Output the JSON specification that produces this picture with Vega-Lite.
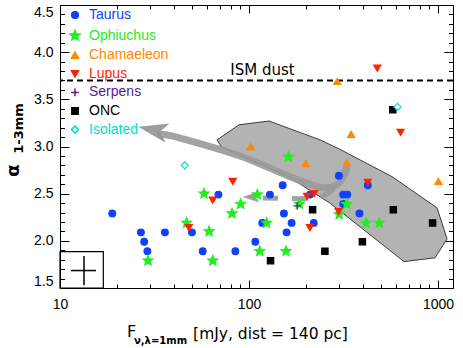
{
  "$schema": "https://vega.github.io/schema/vega-lite/v6.json",
  "width": 393,
  "height": 283,
  "autosize": {"type": "none"},
  "padding": {"left": 60, "top": 5, "right": 10, "bottom": 60},
  "background": "white",
  "config": {
    "view": {"stroke": "black", "strokeWidth": 1},
    "axis": {"grid": false, "domain": false, "tickColor": "black", "tickWidth": 1, "labelColor": "black", "titleColor": "black", "labelFont": "Liberation Sans", "labelFontSize": 14, "titleFont": "DejaVu Sans", "titleFontWeight": "normal"},
    "legend": {"orient": "none", "legendX": 8, "legendY": 3, "labelFont": "Liberation Sans", "labelFontSize": 14, "labelOffset": 7, "rowPadding": 4.6, "symbolStrokeWidth": 1.5,
      "labelColor": {"expr": "datum.label == 'Taurus' ? '#1040ff' : datum.label == 'Ophiuchus' ? '#22ee22' : datum.label == 'Chamaeleon' ? '#ff8800' : datum.label == 'Lupus' ? '#ff2200' : datum.label == 'Serpens' ? '#5a1a9a' : datum.label == 'Isolated' ? '#00e0c8' : '#000000'"}}
  },
  "datasets": {
    "points": [
      {"flux": 18.9, "alpha": 2.29, "group": "Taurus"},
      {"flux": 26.8, "alpha": 2.09, "group": "Taurus"},
      {"flux": 35.9, "alpha": 2.09, "group": "Taurus"},
      {"flux": 49.9, "alpha": 2.09, "group": "Taurus"},
      {"flux": 27.9, "alpha": 1.99, "group": "Taurus"},
      {"flux": 29.0, "alpha": 1.89, "group": "Taurus"},
      {"flux": 56.9, "alpha": 1.89, "group": "Taurus"},
      {"flux": 68.9, "alpha": 2.49, "group": "Taurus"},
      {"flux": 129, "alpha": 2.49, "group": "Taurus"},
      {"flux": 210, "alpha": 2.49, "group": "Taurus"},
      {"flux": 315, "alpha": 2.49, "group": "Taurus"},
      {"flux": 331, "alpha": 2.49, "group": "Taurus"},
      {"flux": 150.7, "alpha": 2.59, "group": "Taurus"},
      {"flux": 299, "alpha": 2.69, "group": "Taurus"},
      {"flux": 315, "alpha": 2.39, "group": "Taurus"},
      {"flux": 153, "alpha": 2.29, "group": "Taurus"},
      {"flux": 117.5, "alpha": 2.19, "group": "Taurus"},
      {"flux": 168, "alpha": 2.19, "group": "Taurus"},
      {"flux": 220, "alpha": 2.19, "group": "Taurus"},
      {"flux": 158, "alpha": 2.09, "group": "Taurus"},
      {"flux": 108, "alpha": 1.99, "group": "Taurus"},
      {"flux": 84.7, "alpha": 1.89, "group": "Taurus"},
      {"flux": 425, "alpha": 2.59, "group": "Taurus"},
      {"flux": 384, "alpha": 2.29, "group": "Taurus"},
      {"flux": 57.8, "alpha": 2.5, "group": "Ophiuchus"},
      {"flux": 46.8, "alpha": 2.19, "group": "Ophiuchus"},
      {"flux": 61.5, "alpha": 2.1, "group": "Ophiuchus"},
      {"flux": 29.2, "alpha": 1.79, "group": "Ophiuchus"},
      {"flux": 64.3, "alpha": 1.79, "group": "Ophiuchus"},
      {"flux": 161.5, "alpha": 2.89, "group": "Ophiuchus"},
      {"flux": 110.7, "alpha": 2.49, "group": "Ophiuchus"},
      {"flux": 90.3, "alpha": 2.39, "group": "Ophiuchus"},
      {"flux": 184.6, "alpha": 2.39, "group": "Ophiuchus"},
      {"flux": 81.3, "alpha": 2.29, "group": "Ophiuchus"},
      {"flux": 300, "alpha": 2.28, "group": "Ophiuchus"},
      {"flux": 124, "alpha": 2.19, "group": "Ophiuchus"},
      {"flux": 114, "alpha": 1.89, "group": "Ophiuchus"},
      {"flux": 157, "alpha": 1.89, "group": "Ophiuchus"},
      {"flux": 329, "alpha": 2.39, "group": "Ophiuchus"},
      {"flux": 416, "alpha": 2.19, "group": "Ophiuchus"},
      {"flux": 489, "alpha": 2.19, "group": "Ophiuchus"},
      {"flux": 102, "alpha": 3.0, "group": "Chamaeleon"},
      {"flux": 200, "alpha": 2.82, "group": "Chamaeleon"},
      {"flux": 329, "alpha": 2.83, "group": "Chamaeleon"},
      {"flux": 293, "alpha": 3.69, "group": "Chamaeleon"},
      {"flux": 347, "alpha": 3.13, "group": "Chamaeleon"},
      {"flux": 1005, "alpha": 2.63, "group": "Chamaeleon"},
      {"flux": 48, "alpha": 2.14, "group": "Lupus"},
      {"flux": 82, "alpha": 2.63, "group": "Lupus"},
      {"flux": 221, "alpha": 2.5, "group": "Lupus"},
      {"flux": 203, "alpha": 2.47, "group": "Lupus"},
      {"flux": 64.3, "alpha": 2.43, "group": "Lupus"},
      {"flux": 298, "alpha": 2.31, "group": "Lupus"},
      {"flux": 210, "alpha": 2.14, "group": "Lupus"},
      {"flux": 477, "alpha": 3.83, "group": "Lupus"},
      {"flux": 634, "alpha": 3.15, "group": "Lupus"},
      {"flux": 425, "alpha": 2.62, "group": "Lupus"},
      {"flux": 180, "alpha": 2.37, "group": "Serpens"},
      {"flux": 217, "alpha": 2.33, "group": "ONC"},
      {"flux": 252, "alpha": 1.89, "group": "ONC"},
      {"flux": 130, "alpha": 1.79, "group": "ONC"},
      {"flux": 576, "alpha": 3.39, "group": "ONC"},
      {"flux": 580, "alpha": 2.33, "group": "ONC"},
      {"flux": 936, "alpha": 2.19, "group": "ONC"},
      {"flux": 398, "alpha": 1.99, "group": "ONC"},
      {"flux": 45.7, "alpha": 2.8, "group": "Isolated"},
      {"flux": 610, "alpha": 3.42, "group": "Isolated"}
    ],
    "poly": [
      {"i": 1, "flux": 67.7, "alpha": 3.07},
      {"i": 2, "flux": 88.5, "alpha": 3.23},
      {"i": 3, "flux": 127.6, "alpha": 3.27},
      {"i": 4, "flux": 237.8, "alpha": 3.07},
      {"i": 5, "flux": 303, "alpha": 2.97},
      {"i": 6, "flux": 571, "alpha": 2.68},
      {"i": 7, "flux": 988, "alpha": 2.35},
      {"i": 8, "flux": 1116, "alpha": 2.02},
      {"i": 9, "flux": 964, "alpha": 1.82},
      {"i": 10, "flux": 661, "alpha": 1.78},
      {"i": 11, "flux": 268, "alpha": 2.4},
      {"i": 12, "flux": 164.8, "alpha": 2.67},
      {"i": 13, "flux": 71.9, "alpha": 2.99},
      {"i": 14, "flux": 67.7, "alpha": 3.07}
    ],
    "longarrow": [
      {"i": 1, "flux": 33.8, "alpha": 3.13},
      {"i": 2, "flux": 43.2, "alpha": 3.09},
      {"i": 3, "flux": 89.6, "alpha": 2.9},
      {"i": 4, "flux": 164.8, "alpha": 2.68},
      {"i": 5, "flux": 237.8, "alpha": 2.57},
      {"i": 6, "flux": 285, "alpha": 2.58},
      {"i": 7, "flux": 314, "alpha": 2.67},
      {"i": 8, "flux": 330, "alpha": 2.79}
    ],
    "dasharrow": [
      {"i": 1, "flux": 118.6, "alpha": 2.454},
      {"i": 2, "flux": 155, "alpha": 2.449},
      {"i": 3, "flux": 210, "alpha": 2.449},
      {"i": 4, "flux": 252, "alpha": 2.486},
      {"i": 5, "flux": 285, "alpha": 2.56}
    ],
    "longhead": [{"flux": 31.0, "alpha": 3.175}],
    "dashhead": [{"flux": 102.5, "alpha": 2.465}],
    "ism": [{"alpha": 3.7}],
    "ismlabel": [{"flux": 117.9, "alpha": 3.7, "text": "ISM dust"}],
    "box": [{"x1": 10, "x2": 16.95, "y1": 1.5, "y2": 1.885}],
    "cross": [
      {"x1": 11.4, "x2": 15.5, "y1": 1.685, "y2": 1.685},
      {"x1": 13.4, "x2": 13.4, "y1": 1.53, "y2": 1.84}
    ]
  },
  "layer": [
    {
      "data": {"name": "poly"},
      "mark": {"type": "line", "fill": "#b3b3b3", "stroke": "#3c3c3c", "strokeWidth": 1},
      "encoding": {
        "x": {"field": "flux", "type": "quantitative", "scale": {"type": "log", "domain": [10, 1200], "nice": false},
          "axis": {"orient": "bottom", "values": [20, 30, 40, 50, 60, 70, 80, 90, 200, 300, 400, 500, 600, 700, 800, 900], "labels": false, "tickSize": -4, "title": "F", "titleFont": "DejaVu Sans", "titleFontSize": 16, "titleX": 71, "titleY": 43, "titleAlign": "center", "titleBaseline": "middle"}},
        "y": {"field": "alpha", "type": "quantitative", "scale": {"domain": [1.5, 4.5], "nice": false, "zero": false},
          "axis": {"orient": "left", "values": [1.6, 1.7, 1.8, 1.9, 2.1, 2.2, 2.3, 2.4, 2.6, 2.7, 2.8, 2.9, 3.1, 3.2, 3.3, 3.4, 3.6, 3.7, 3.8, 3.9, 4.1, 4.2, 4.3, 4.4], "labels": false, "tickSize": -4.5, "title": "1-3mm", "titleFont": "DejaVu Sans", "titleFontSize": 13, "titleFontWeight": "bold", "titleX": -42, "titleY": 123, "titleAngle": -90, "titleAlign": "center", "titleBaseline": "middle"}},
        "order": {"field": "i", "type": "quantitative"}
      }
    },
    {
      "data": {"name": "longarrow"},
      "mark": {"type": "line", "stroke": "#999999", "strokeWidth": 7, "strokeCap": "round", "interpolate": "cardinal", "opacity": 0.9},
      "encoding": {
        "x": {"field": "flux", "type": "quantitative", "scale": {"type": "log", "domain": [10, 1200], "nice": false},
          "axis": {"orient": "top", "values": [10, 100, 1000], "labels": false, "tickSize": -8, "title": null}},
        "y": {"field": "alpha", "type": "quantitative", "scale": {"domain": [1.5, 4.5], "nice": false, "zero": false},
          "axis": {"orient": "right", "values": [1.5, 2, 2.5, 3, 3.5, 4, 4.5], "labels": false, "tickSize": -9, "title": null}},
        "order": {"field": "i", "type": "quantitative"}
      }
    },
    {
      "data": {"name": "dasharrow"},
      "mark": {"type": "line", "stroke": "#999999", "strokeWidth": 5, "strokeDash": [15, 14], "interpolate": "cardinal", "opacity": 0.9},
      "encoding": {
        "x": {"field": "flux", "type": "quantitative", "scale": {"type": "log", "domain": [10, 1200], "nice": false},
          "axis": {"orient": "top", "values": [20, 30, 40, 50, 60, 70, 80, 90, 200, 300, 400, 500, 600, 700, 800, 900], "labels": false, "tickSize": -4, "title": null}},
        "y": {"field": "alpha", "type": "quantitative", "scale": {"domain": [1.5, 4.5], "nice": false, "zero": false},
          "axis": {"orient": "right", "values": [1.6, 1.7, 1.8, 1.9, 2.1, 2.2, 2.3, 2.4, 2.6, 2.7, 2.8, 2.9, 3.1, 3.2, 3.3, 3.4, 3.6, 3.7, 3.8, 3.9, 4.1, 4.2, 4.3, 4.4], "labels": false, "tickSize": -4.5, "title": null}},
        "order": {"field": "i", "type": "quantitative"}
      }
    },
    {
      "data": {"name": "longhead"},
      "mark": {"type": "point", "shape": "M-1,0L1,-0.65L0.5,0L1,0.65Z", "size": 900, "angle": 12, "filled": true, "fill": "#999999", "strokeWidth": 0, "opacity": 0.95},
      "encoding": {
        "x": {"field": "flux", "type": "quantitative", "scale": {"type": "log", "domain": [10, 1200], "nice": false}, "axis": null},
        "y": {"field": "alpha", "type": "quantitative", "scale": {"domain": [1.5, 4.5], "nice": false, "zero": false}, "axis": null}
      }
    },
    {
      "data": {"name": "dashhead"},
      "mark": {"type": "point", "shape": "M-1,0L1,-0.65L0.5,0L1,0.65Z", "size": 289, "angle": 0, "filled": true, "fill": "#999999", "strokeWidth": 0, "opacity": 0.95},
      "encoding": {
        "x": {"field": "flux", "type": "quantitative", "scale": {"type": "log", "domain": [10, 1200], "nice": false}, "axis": null},
        "y": {"field": "alpha", "type": "quantitative", "scale": {"domain": [1.5, 4.5], "nice": false, "zero": false}, "axis": null}
      }
    },
    {
      "data": {"name": "ism"},
      "mark": {"type": "rule", "stroke": "black", "strokeWidth": 2, "strokeDash": [6, 4]},
      "encoding": {
        "y": {"field": "alpha", "type": "quantitative", "scale": {"domain": [1.5, 4.5], "nice": false, "zero": false}, "axis": null}
      }
    },
    {
      "data": {"name": "ismlabel"},
      "mark": {"type": "text", "font": "DejaVu Sans", "fontSize": 15, "color": "black", "baseline": "alphabetic", "align": "center", "dy": -5},
      "encoding": {
        "x": {"field": "flux", "type": "quantitative", "scale": {"type": "log", "domain": [10, 1200], "nice": false},
          "axis": {"orient": "bottom", "ticks": false, "labels": false, "title": "ν,λ=1mm", "titleFont": "DejaVu Sans", "titleFontSize": 10, "titleFontWeight": "bold", "titleX": 100, "titleY": 52, "titleAlign": "center", "titleBaseline": "middle"}},
        "y": {"field": "alpha", "type": "quantitative", "scale": {"domain": [1.5, 4.5], "nice": false, "zero": false}, "axis": null},
        "text": {"field": "text"}
      }
    },
    {
      "data": {"name": "box"},
      "mark": {"type": "rect", "fill": null, "stroke": "black", "strokeWidth": 1.2},
      "encoding": {
        "x": {"field": "x1", "type": "quantitative", "scale": {"type": "log", "domain": [10, 1200], "nice": false}, "axis": null},
        "x2": {"field": "x2"},
        "y": {"field": "y1", "type": "quantitative", "scale": {"domain": [1.5, 4.5], "nice": false, "zero": false}, "axis": null},
        "y2": {"field": "y2"}
      }
    },
    {
      "data": {"name": "cross"},
      "mark": {"type": "rule", "stroke": "black", "strokeWidth": 1.5},
      "encoding": {
        "x": {"field": "x1", "type": "quantitative", "scale": {"type": "log", "domain": [10, 1200], "nice": false}, "axis": null},
        "x2": {"field": "x2"},
        "y": {"field": "y1", "type": "quantitative", "scale": {"domain": [1.5, 4.5], "nice": false, "zero": false}, "axis": null},
        "y2": {"field": "y2"}
      }
    },
    {
      "data": {"name": "points"},
      "mark": {"type": "point", "opacity": 1, "strokeWidth": 1.2},
      "encoding": {
        "x": {"field": "flux", "type": "quantitative", "scale": {"type": "log", "domain": [10, 1200], "nice": false},
          "axis": {"orient": "bottom", "values": [10, 100, 1000], "format": "d", "tickSize": -8, "labelPadding": 17, "labelFlush": false, "title": "[mJy, dist = 140 pc]", "titleFont": "DejaVu Sans", "titleFontSize": 15.5, "titleX": 210, "titleY": 45, "titleAlign": "center", "titleBaseline": "middle"}},
        "y": {"field": "alpha", "type": "quantitative", "scale": {"domain": [1.5, 4.5], "nice": false, "zero": false},
          "axis": {"orient": "left", "values": [1.5, 2, 2.5, 3, 3.5, 4, 4.5], "format": ".1f", "tickSize": -9, "labelPadding": 16, "labelFlush": true, "title": "α", "titleFont": "DejaVu Sans", "titleFontSize": 18, "titleFontWeight": "bold", "titleX": -47, "titleY": 165, "titleAngle": -90, "titleAlign": "center", "titleBaseline": "middle"}},
        "fill": {"field": "group", "type": "nominal",
          "scale": {"domain": ["Taurus", "Ophiuchus", "Chamaeleon", "Lupus", "Serpens", "ONC", "Isolated"], "range": ["#1040ff", "#22ee22", "#ff8800", "#ff2200", "#5a1a9a", "#000000", "#ffffff"]},
          "legend": {"title": null}},
        "stroke": {"field": "group", "type": "nominal",
          "scale": {"domain": ["Taurus", "Ophiuchus", "Chamaeleon", "Lupus", "Serpens", "ONC", "Isolated"], "range": ["#1040ff", "#22ee22", "#ff8800", "#ff2200", "#5a1a9a", "#000000", "#00e0c8"]},
          "legend": {"title": null}},
        "shape": {"field": "group", "type": "nominal",
          "scale": {"domain": ["Taurus", "Ophiuchus", "Chamaeleon", "Lupus", "Serpens", "ONC", "Isolated"], "range": ["circle", "M0,-1L0.265,-0.364L0.951,-0.309L0.428,0.139L0.588,0.809L0,0.45L-0.588,0.809L-0.428,0.139L-0.951,-0.309L-0.265,-0.364Z", "triangle-up", "triangle-down", "M-1,0L1,0M0,-1L0,1", "square", "diamond"]},
          "legend": {"title": null}},
        "size": {"field": "group", "type": "nominal",
          "scale": {"type": "ordinal", "domain": ["Taurus", "Ophiuchus", "Chamaeleon", "Lupus", "Serpens", "ONC", "Isolated"], "range": [45, 110, 50, 50, 60, 40, 50]},
          "legend": {"title": null}}
      }
    }
  ],
  "resolve": {"axis": {"x": "independent", "y": "independent"}}
}
